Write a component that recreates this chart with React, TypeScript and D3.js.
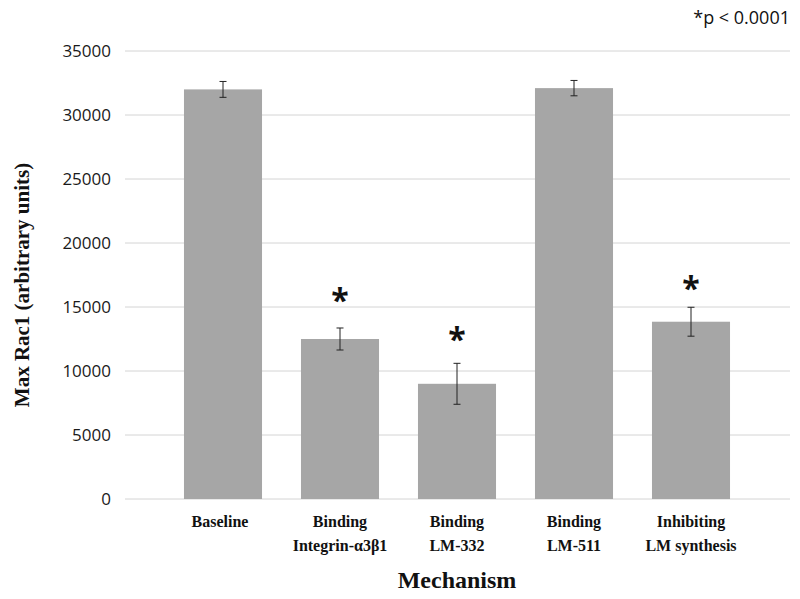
import React from "react";
import * as d3 from "d3";

const categories = ["Baseline", "Integrin", "LM-332", "LM-511", "Inhibiting"];
const labelLine1 = ["Baseline", "Binding", "Binding", "Binding", "Inhibiting"];
const labelLine2 = ["", "Integrin-α3β1", "LM-332", "LM-511", "LM synthesis"];
const values = [32000, 12500, 9000, 32100, 13850];
const errors = [620, 860, 1600, 600, 1130];
const significant = [false, true, true, false, true];
const starLevels = [0, 16150, 13150, 0, 17100];
const yTicks = [0, 5000, 10000, 15000, 20000, 25000, 30000, 35000];

const W = 800;
const H = 599;

export default function App() {
  const x = d3
    .scaleBand<string>()
    .domain(categories)
    .range([164.5, 749.5])
    .paddingInner(0.333)
    .paddingOuter(0.1665);
  const y = d3.scaleLinear().domain([0, 35000]).range([499, 51]);
  const gridX0 = 125;
  const gridX1 = 790;
  const sans = "'Open Sans', 'Noto Sans', sans-serif";
  const serif = "'Liberation Serif', 'DejaVu Serif', serif";

  return (
    <svg
      width={W}
      height={H}
      style={{ position: "absolute", left: 0, top: 0, background: "#fff" }}
    >
      <rect x={0} y={0} width={W} height={H} fill="#fff" />
      {yTicks.map((t) => (
        <g key={t}>
          <line
            x1={gridX0}
            x2={gridX1}
            y1={y(t)}
            y2={y(t)}
            stroke="#d4d4d4"
            strokeWidth={1}
          />
          <text
            x={111}
            y={y(t)}
            dy="0.36em"
            textAnchor="end"
            fontFamily={sans}
            fontSize={17}
            fill="#1a1a1a"
          >
            {t}
          </text>
        </g>
      ))}
      {categories.map((c, i) => {
        const bx = x(c)!;
        const bw = x.bandwidth();
        const cx = bx + bw / 2;
        const v = values[i];
        const e = errors[i];
        return (
          <g key={c}>
            <rect
              x={bx}
              y={y(v)}
              width={bw}
              height={y(0) - y(v)}
              fill="#a6a6a6"
            />
            <line x1={cx} x2={cx} y1={y(v + e)} y2={y(v - e)} stroke="#222" strokeWidth={1} />
            <line x1={cx - 3.5} x2={cx + 3.5} y1={y(v + e)} y2={y(v + e)} stroke="#222" strokeWidth={1} />
            <line x1={cx - 3.5} x2={cx + 3.5} y1={y(v - e)} y2={y(v - e)} stroke="#222" strokeWidth={1} />
            {significant[i] && (
              <text
                x={cx}
                y={y(starLevels[i])}
                dy="0.62em"
                textAnchor="middle"
                fontFamily={sans}
                fontWeight="bold"
                fontSize={32}
                fill="#111"
              >
                *
              </text>
            )}
            <text
              x={i === 0 ? cx - 3 : cx}
              y={527}
              textAnchor="middle"
              fontFamily={serif}
              fontWeight="bold"
              fontSize={16}
              fill="#111"
            >
              {labelLine1[i]}
            </text>
            {labelLine2[i] && (
              <text
                x={cx}
                y={551}
                textAnchor="middle"
                fontFamily={serif}
                fontWeight="bold"
                fontSize={16}
                fill="#111"
              >
                {labelLine2[i]}
              </text>
            )}
          </g>
        );
      })}
      <text
        x={457}
        y={588}
        textAnchor="middle"
        fontFamily={serif}
        fontWeight="bold"
        fontSize={24}
        fill="#111"
      >
        Mechanism
      </text>
      <text
        transform={`translate(29,285) rotate(-90)`}
        textAnchor="middle"
        fontFamily={serif}
        fontWeight="bold"
        fontSize={21}
        fill="#111"
      >
        Max Rac1 (arbitrary units)
      </text>
      <text
        x={790}
        y={24}
        textAnchor="end"
        fontFamily={sans}
        fontSize={18}
        fill="#111"
      >
        *p &lt; 0.0001
      </text>
    </svg>
  );
}
